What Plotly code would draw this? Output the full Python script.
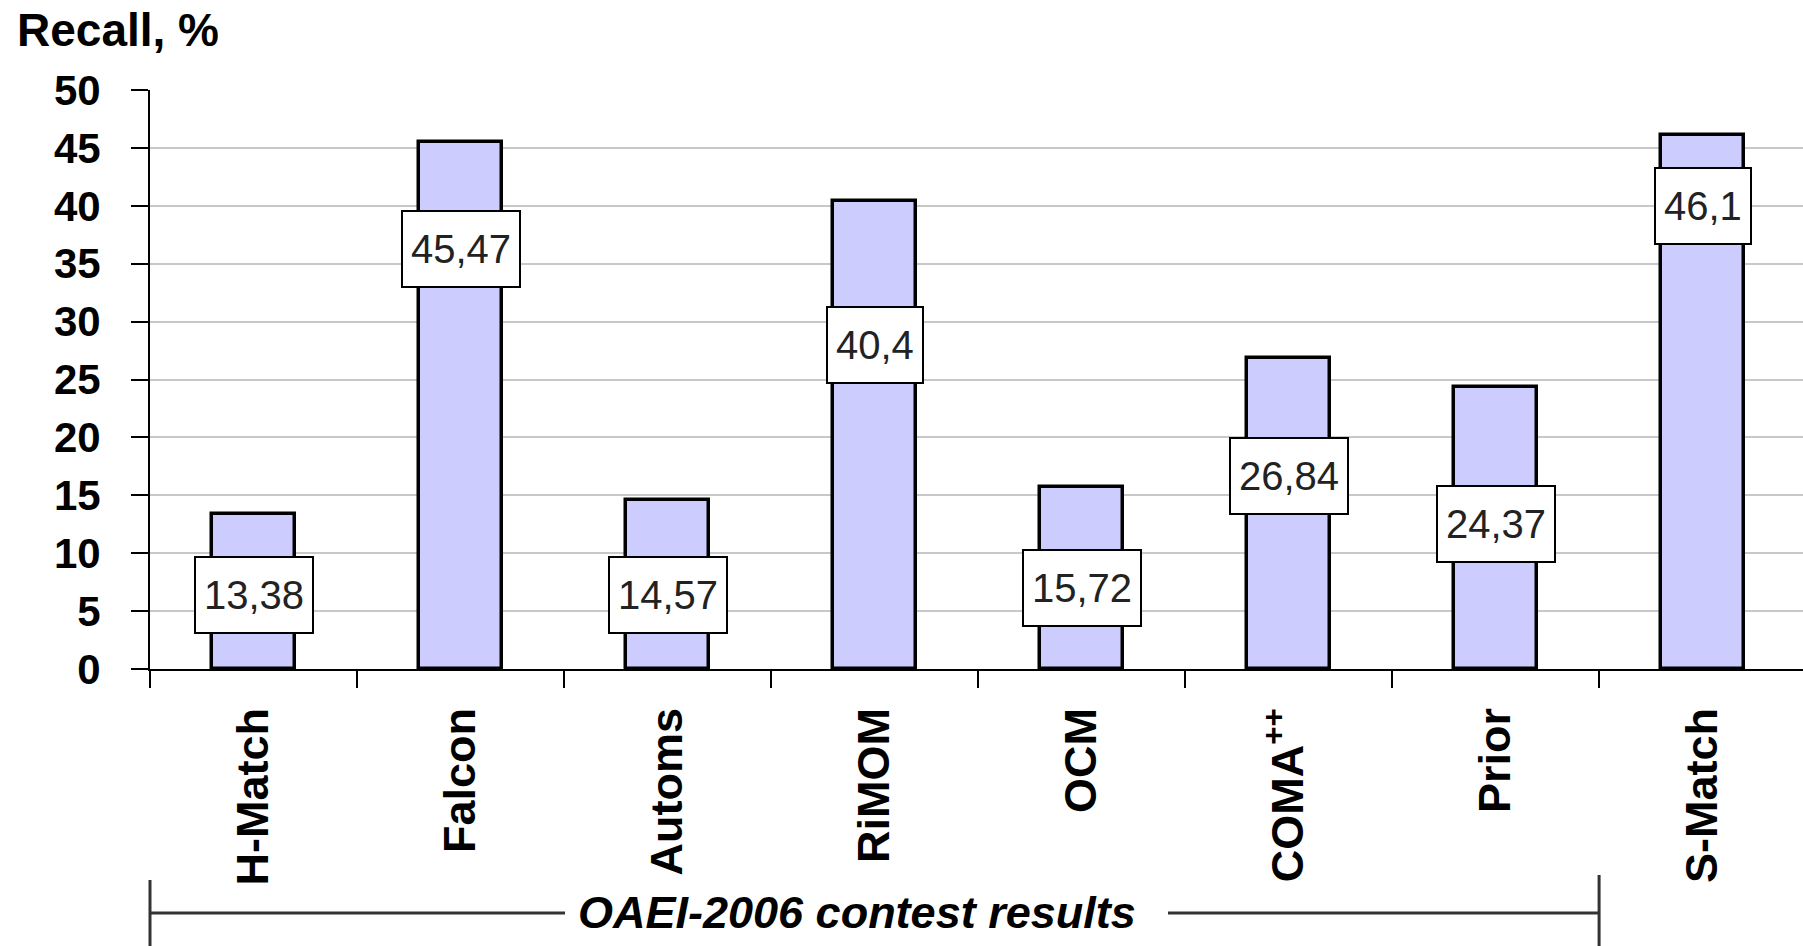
import plotly.graph_objects as go

# ---- data ----
categories = ["H-Match", "Falcon", "Automs", "RiMOM", "OCM", "COMA<sup>++</sup>", "Prior", "S-Match"]
recall = [13.38, 45.47, 14.57, 40.4, 15.72, 26.84, 24.37, 46.1]
label_y = [6.4, 36.3, 6.4, 28.0, 7.0, 16.7, 12.5, 40.0]   # data-y where each value box sits
y_ticks = [0, 5, 10, 15, 20, 25, 30, 35, 40, 45, 50]
group_text = "OAEI-2006 contest results"

FONT = "Liberation Sans"
W, H = 1803, 946
ML, MT, MB = 150, 90, 277
XR = [-0.5, 7.485]

fig = go.Figure()
fig.add_trace(go.Bar(
    x=categories, y=recall, width=0.40,
    marker=dict(color="#CCCCFF", line=dict(color="black", width=3.5)),
    hoverinfo="skip",
))

for i, (v, ly) in enumerate(zip(recall, label_y)):
    fig.add_annotation(
        x=i, y=ly, xref="x", yref="y", showarrow=False,
        text=str(v).replace(".", ","),
        font=dict(family=FONT, size=40, color="#222222"),
        bgcolor="white", bordercolor="black", borderwidth=2, borderpad=8,
        height=58, valign="middle",
    )

plot_h = H - MT - MB
def py(pix):
    return (H - MB - pix) / plot_h
def px_from_cat(c):
    return (c - XR[0]) / (XR[1] - XR[0])

# bracket under contest group
left_b = px_from_cat(-0.5)
right_b = px_from_cat(6.5)
pw = W - ML
line_style = dict(color="#333333", width=3)
fig.add_shape(type="line", xref="paper", yref="paper", x0=left_b, x1=left_b, y0=py(880), y1=py(946), line=line_style)
fig.add_shape(type="line", xref="paper", yref="paper", x0=right_b, x1=right_b, y0=py(875), y1=py(946), line=line_style)
fig.add_shape(type="line", xref="paper", yref="paper", x0=left_b, x1=(565 - ML) / pw, y0=py(913), y1=py(913), line=line_style)
fig.add_shape(type="line", xref="paper", yref="paper", x0=(1168 - ML) / pw, x1=right_b, y0=py(913), y1=py(913), line=line_style)
fig.add_annotation(
    xref="paper", yref="paper", x=(857 - ML) / pw, y=py(912), showarrow=False,
    text="<i>" + group_text + "</i>",
    font=dict(family=FONT, size=45, color="black", weight="bold"),
    xanchor="center", yanchor="middle",
)

# y axis title top-left
fig.add_annotation(
    xref="paper", yref="paper", x=(15 - ML) / pw, y=py(30), showarrow=False,
    text="Recall, %", xanchor="left", yanchor="middle",
    font=dict(family=FONT, size=46, color="black", weight="bold"),
)

fig.update_layout(
    width=W, height=H,
    margin=dict(l=ML, r=0, t=MT, b=MB),
    paper_bgcolor="white", plot_bgcolor="white",
    showlegend=False, bargap=0,
    xaxis=dict(
        type="category", range=XR,
        tickangle=-90, tickson="boundaries",
        ticks="outside", ticklen=17, tickwidth=2, tickcolor="black",
        showline=True, linecolor="black", linewidth=2,
        showgrid=False, zeroline=False,
        tickfont=dict(family=FONT, size=45, color="black", weight="bold"),
        ticklabelstandoff=19,
    ),
    yaxis=dict(
        range=[0, 50], tickvals=y_ticks,
        ticks="outside", ticklen=17, tickwidth=2, tickcolor="black",
        showline=True, linecolor="black", linewidth=2,
        showgrid=True, gridcolor="#C8C8C8", gridwidth=2, zeroline=False,
        tickfont=dict(family=FONT, size=42, color="black", weight="bold"),
        ticklabelstandoff=22,
    ),
)

fig.write_html("out.html")
